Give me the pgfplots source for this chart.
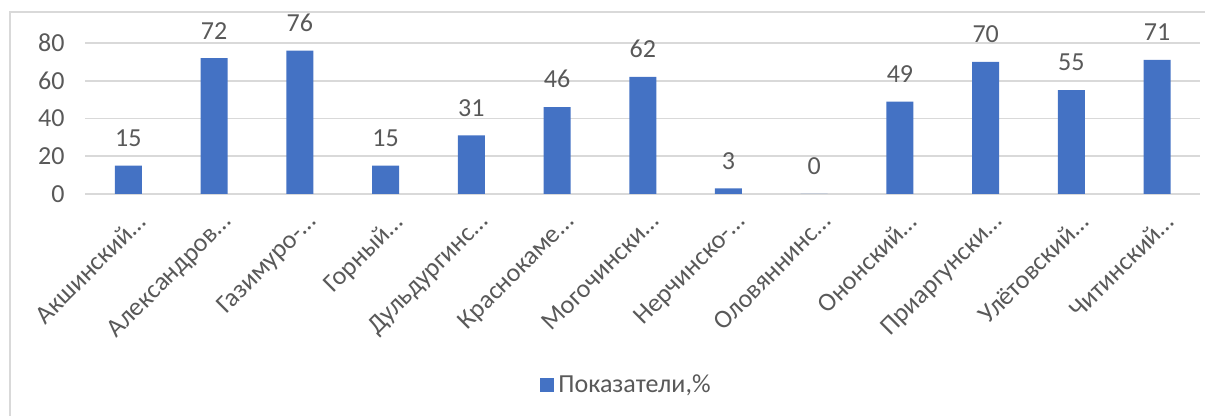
\documentclass[border=0pt]{standalone}
\usepackage{fontspec}
\setmainfont{Carlito}
\usepackage{pgfplots}
\pgfplotsset{compat=1.18}
\definecolor{barblue}{HTML}{4472C4}
\definecolor{txtgray}{HTML}{595959}
\definecolor{gridgray}{HTML}{D9D9D9}
\begin{document}
\begin{tikzpicture}
\begin{axis}[
  at={(0,0)}, anchor=south west,
  width=557.25pt, height=75.5pt, scale only axis,
  xmin=-0.5, xmax=12.5, ymin=0, ymax=80,
  ytick={0,20,40,60,80},
  xtick={0,...,12},
  xticklabels={Акшинский…,Александров…,Газимуро-…,Горный…,Дульдургинс…,Краснокаме…,Могочински…,Нерчинско-…,Оловяннинс…,Ононский…,Приаргунски…,Улётовский…,Читинский…},
  axis x line*=bottom, axis y line*=left,
  x axis line style={draw=gridgray, thick, -},
  y axis line style={draw=none},
  ymajorgrids, grid style={draw=gridgray, thick},
  major tick length=0pt,
  /pgf/number format/assume math mode=true,
  ticklabel style={font=\fontsize{13}{15}\selectfont, text=txtgray},
  yticklabel style={xshift=-7pt},
  xticklabel style={xshift=3pt, yshift=-7pt, rotate=45, anchor=north east, inner sep=1pt},
  ybar, bar width=13.5pt,
  clip=false,
  nodes near coords,
  every node near coord/.append style={font=\fontsize{13}{15}\selectfont, text=txtgray, yshift=6pt},
  legend style={at={(271pt,-95.5pt)}, anchor=center, draw=none, font=\fontsize{13}{15}\selectfont, text=txtgray, inner sep=0pt},
  legend image code/.code={\fill[barblue] (-1pt,-3.5pt) rectangle (6pt,3.5pt);},
]
\addplot[fill=barblue, draw=none] coordinates {
(0,15) (1,72) (2,76) (3,15) (4,31) (5,46) (6,62) (7,3) (8,0) (9,49) (10,70) (11,55) (12,71)};
\addlegendentry{Показатели,\%}
\end{axis}
\pgfresetboundingbox
\useasboundingbox (-42.75pt,-111pt) rectangle (559.75pt,97pt);
\draw[gridgray, line width=1pt] (-37.75pt,-111pt) -- (-37.75pt,91pt) -- (560pt,91pt);
\end{tikzpicture}
\end{document}
